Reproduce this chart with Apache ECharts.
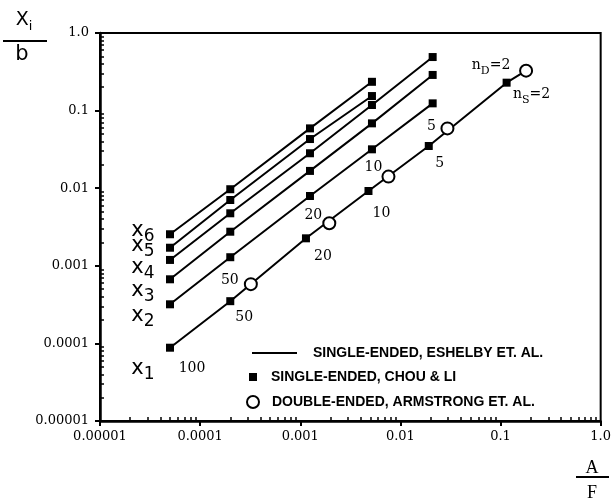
<!DOCTYPE html>
<html>
<head>
<meta charset="utf-8">
<script src="https://cdn.jsdelivr.net/npm/echarts@6/dist/echarts.min.js"></script>
<style>
html, body { margin: 0; padding: 0; background: #fff; }
#chart { width: 614px; height: 504px; }
</style>
</head>
<body>
<div id="chart"></div>
<script>
// tick labels
const xTickLabels = ['0.00001', '0.0001', '0.001', '0.01', '0.1', '1.0']
const yTickLabels = ['0.00001', '0.0001', '0.001', '0.01', '0.1', '1.0']

// single-ended curves x1..x6 (A/F, Xi/b)
const curveNames = ['1', '2', '3', '4', '5', '6']
const afX1 = [5e-5, 2e-4, 1.14e-3, 4.8e-3, 1.92e-2, 0.115]
const afRest = [5e-5, 2e-4, 1.25e-3, 5.2e-3, 2.1e-2]
const x1Vals = [8.8e-5, 3.5e-4, 2.26e-3, 9.2e-3, 0.035, 0.229]
const x2Vals = [3.19e-4, 1.29e-3, 7.94e-3, 0.0317, 0.124]
const x3Vals = [6.7e-4, 2.75e-3, 0.0167, 0.0685, 0.288]
const x4Vals = [1.19e-3, 4.75e-3, 0.0282, 0.118, 0.49]
const x5Vals = [1.71e-3, 7.05e-3, 0.043, 0.154]
const x6Vals = [2.55e-3, 9.7e-3, 0.059, 0.235]
const nsLabels = ['100', '50', '20', '10', '5', '{n|n}{sub|S}{n|=2}']

// double-ended (circles)
const afDouble = [3.21e-4, 1.95e-3, 7.6e-3, 2.95e-2, 0.18]
const doubleVals = [5.8e-4, 3.53e-3, 0.0141, 0.059, 0.327]
const ndLabels = ['50', '20', '10', '5', '{n|n}{sub|D}{n|=2}']

const LINE_NAME = 'SINGLE-ENDED, ESHELBY ET. AL.'
const SQUARE_NAME = 'SINGLE-ENDED, CHOU & LI'
const CIRCLE_NAME = 'DOUBLE-ENDED, ARMSTRONG ET. AL.'

// label offsets (px, from the point)
const curveLabelOffsets = [[-27, 23], [-27, 13], [-27, 13], [-27, 10], [-27, 0], [-27, -2]]
const nsOffsets = [[22, 21], [14, 16], [17, 18], [13, 22], [11, 17], [25, 14]]
const ndOffsets = [[-21, -4], [-16, -8], [-15, -9], [-16, -2], [-35, -3]]

const black = '#000'
const serif = 'DejaVu Serif'
const sans = 'Liberation Sans'

const curves = [
    { x: afX1, y: x1Vals },
    { x: afRest, y: x2Vals },
    { x: afRest, y: x3Vals },
    { x: afRest, y: x4Vals },
    { x: afRest.slice(0, 4), y: x5Vals },
    { x: afRest.slice(0, 4), y: x6Vals },
]

// minor log ticks, in log10 units for the helper value axes
const minorTicks = []
for (let d = -5; d < 0; d++) {
    for (let k = 2; k < 10; k++) {
        minorTicks.push(d + Math.log10(k))
    }
}

const numLabelStyle = {
    color: black,
    fontFamily: serif,
    fontSize: 14,
    rich: {
        n: { fontFamily: serif, fontSize: 14, verticalAlign: 'bottom', padding: [0, 0, 4, 0], color: black },
        sub: { fontFamily: serif, fontSize: 11, verticalAlign: 'bottom', color: black },
    },
}

const lineSeries = curves.map((c, ci) => {
    const pts = c.x.map((a, i) => [a, c.y[i]])
    if (ci === 0) {
        pts.push([afDouble[afDouble.length - 1], doubleVals[doubleVals.length - 1]])
    }
    return {
        type: 'line',
        name: LINE_NAME,
        data: pts,
        symbol: 'none',
        z: 2,
        lineStyle: { color: black, width: 2 },
        itemStyle: { color: black },
    }
})

const squareSeries = curves.map((c, ci) => ({
    type: 'scatter',
    name: SQUARE_NAME,
    symbol: 'rect',
    symbolSize: 8,
    z: 3,
    itemStyle: { color: black, opacity: 1 },
    data: c.x.map((a, i) => {
        const item = { value: [a, c.y[i]] }
        if (ci === 0) {
            item.label = Object.assign({
                show: true,
                position: 'inside',
                offset: nsOffsets[i],
                formatter: nsLabels[i],
            }, numLabelStyle)
        }
        return item
    }),
}))

const circleSeries = {
    type: 'scatter',
    name: CIRCLE_NAME,
    symbol: 'emptyCircle',
    symbolSize: 12,
    z: 4,
    itemStyle: { color: black, borderColor: black, borderWidth: 2, opacity: 1 },
    data: afDouble.map((a, i) => ({
        value: [a, doubleVals[i]],
        label: Object.assign({
            show: true,
            position: 'inside',
            offset: ndOffsets[i],
            formatter: ndLabels[i],
        }, numLabelStyle),
    })),
}

const chart = echarts.init(document.getElementById('chart'))

const legendText = { color: black, fontFamily: sans, fontWeight: 'bold', fontSize: 14 }

const minorAxis = (position) => ({
    type: 'value',
    min: -5,
    max: 0,
    position: position,
    axisLine: { show: false, onZero: false },
    axisLabel: { show: false },
    splitLine: { show: false },
    axisTick: { show: true, inside: true, length: 4, customValues: minorTicks, lineStyle: { color: black, width: 1.5 } },
})

const mainAxis = (position, labels, margin) => ({
    type: 'log',
    logBase: 10,
    min: 1e-5,
    max: 1,
    position: position,
    axisLine: { show: true, onZero: false, lineStyle: { color: black, width: 2.5 } },
    axisTick: { show: true, inside: false, length: 5, lineStyle: { color: black, width: 2 } },
    axisLabel: {
        color: black,
        fontFamily: serif,
        fontSize: 13,
        margin: margin,
        formatter: (v) => labels[Math.round(Math.log10(v)) + 5],
    },
    splitLine: { show: false },
})

chart.setOption({
    animation: false,
    backgroundColor: '#fff',
    grid: {
        left: 100,
        right: 13,
        top: 33,
        bottom: 83,
        show: true,
        borderColor: black,
        borderWidth: 2,
    },
    legend: [
        {
            data: [{ name: LINE_NAME, icon: 'rect' }],
            left: 252,
            top: 346,
            padding: 0,
            itemWidth: 45,
            itemHeight: 2,
            selectedMode: false,
            textStyle: Object.assign({ padding: [0, 0, 0, 11] }, legendText),
        },
        {
            data: [{ name: SQUARE_NAME }],
            left: 249,
            top: 370,
            padding: 0,
            itemWidth: 8,
            itemHeight: 8,
            selectedMode: false,
            textStyle: Object.assign({ padding: [0, 0, 0, 9] }, legendText),
        },
        {
            data: [{ name: CIRCLE_NAME }],
            left: 246,
            top: 395,
            padding: 0,
            itemWidth: 12,
            itemHeight: 12,
            selectedMode: false,
            textStyle: Object.assign({ padding: [0, 0, 0, 8] }, legendText),
        },
    ],
    xAxis: [mainAxis('bottom', xTickLabels, 9), minorAxis('bottom')],
    yAxis: [mainAxis('left', yTickLabels, 11), minorAxis('left')],
    series: [...lineSeries, ...squareSeries, circleSeries],
})

// titles and curve names
const graphics = [
    {
        type: 'text', x: 24, y: 22,
        style: {
            text: '{x|X}{s|i}', align: 'center', verticalAlign: 'middle',
            rich: {
                x: { fontFamily: 'DejaVu Sans', fontSize: 19, verticalAlign: 'bottom', padding: [0, 0, 4, 0], fill: black },
                s: { fontFamily: 'DejaVu Sans', fontSize: 13, verticalAlign: 'bottom', fill: black },
            },
        },
    },
    { type: 'line', shape: { x1: 3, y1: 41, x2: 47, y2: 41 }, style: { stroke: black, lineWidth: 2 } },
    {
        type: 'text', x: 22, y: 55,
        style: { text: 'b', fontFamily: 'DejaVu Sans', fontSize: 21, fill: black, align: 'center', verticalAlign: 'middle' },
    },
    {
        type: 'text', x: 592, y: 468,
        style: { text: 'A', fontFamily: 'Liberation Serif', fontSize: 18, fill: black, align: 'center', verticalAlign: 'middle' },
    },
    { type: 'line', shape: { x1: 576, y1: 477, x2: 609, y2: 477 }, style: { stroke: black, lineWidth: 2 } },
    {
        type: 'text', x: 592, y: 493,
        style: { text: 'F', fontFamily: 'Liberation Serif', fontSize: 18, fill: black, align: 'center', verticalAlign: 'middle' },
    },
]

curves.forEach((c, ci) => {
    const p = chart.convertToPixel({ gridIndex: 0 }, [c.x[0], c.y[0]])
    graphics.push({
        type: 'text',
        x: p[0] + curveLabelOffsets[ci][0],
        y: p[1] + curveLabelOffsets[ci][1],
        style: {
            text: '{x|x}{s|' + curveNames[ci] + '}',
            align: 'center',
            verticalAlign: 'middle',
            rich: {
                x: { fontFamily: 'DejaVu Sans', fontSize: 21, verticalAlign: 'bottom', padding: [0, 0, 4, 0], fill: black },
                s: { fontFamily: 'DejaVu Sans', fontSize: 17, verticalAlign: 'bottom', fill: black },
            },
        },
    })
})

chart.setOption({ graphic: graphics })

window.addEventListener('resize', () => chart.resize())
</script>
</body>
</html>
